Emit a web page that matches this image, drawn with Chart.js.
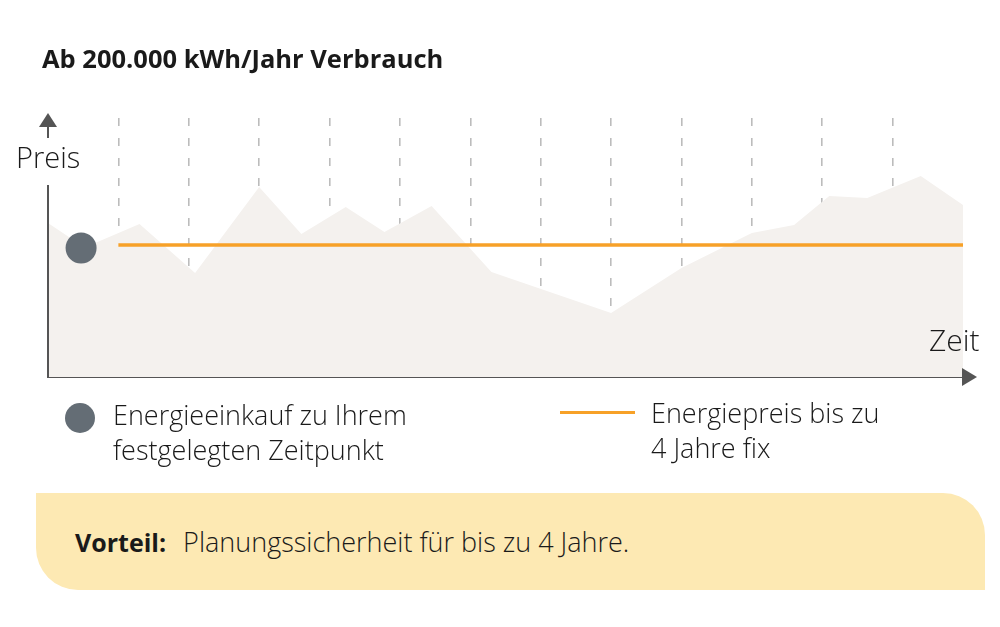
<!DOCTYPE html>
<html lang="de">
<head>
<meta charset="utf-8">
<script src="https://cdn.jsdelivr.net/npm/chart.js@4/dist/chart.umd.min.js"></script>
<style>
    body { margin: 0; background: #fff; }
    #wrap { position: relative; width: 1000px; height: 627px; overflow: hidden; font-family: 'Open Sans', sans-serif; color: #1a1a1a; }
    #priceChart { position: absolute; left: 0; top: 0; }
    .txt { position: absolute; white-space: nowrap; line-height: 1; }
    #title { left: 42px; top: 46px; font-size: 25.5px; font-weight: 700; }
    #yLabel { left: 16px; top: 142px; font-size: 29px; font-weight: 300; }
    #xLabel { left: 929px; top: 325px; font-size: 30px; font-weight: 300; }
    .legend { font-size: 27px; line-height: 35px; font-weight: 300; }
    #legDot { position: absolute; left: 65px; top: 403px; width: 30px; height: 30px; border-radius: 50%; background: #646d75; }
    #legLine { position: absolute; left: 560px; top: 411px; width: 75px; height: 3px; background: #f7a128; }
    #box { position: absolute; left: 36px; top: 493px; width: 949px; height: 97px; background: #fde9b3; border-radius: 0 42px 0 42px; }
    #boxText { left: 75px; top: 528px; font-size: 27px; font-weight: 300; color: #1a1a1a; }
    #boxText b { font-weight: 700; font-size: 25px; margin-right: 10px; }
</style>
</head>
<body>
<div id="wrap">
    <canvas id="priceChart" width="1000" height="627"></canvas>
    <div class="txt" id="title">Ab 200.000 kWh/Jahr Verbrauch</div>
    <div class="txt" id="yLabel">Preis</div>
    <div class="txt" id="xLabel">Zeit</div>
    <div id="legDot"></div>
    <div class="txt legend" style="left:113px; top:397px;">Energieeinkauf zu Ihrem<br>festgelegten Zeitpunkt</div>
    <div id="legLine"></div>
    <div class="txt legend" style="left:651px; top:395px;">Energiepreis bis zu<br>4 Jahre fix</div>
    <div id="box"></div>
    <div class="txt" id="boxText"><b>Vorteil:</b> Planungssicherheit für bis zu 4 Jahre.</div>
</div>
<script>
// market price (grey area), time in periods, price 0..100
const priceX = [-1, -0.48, 0.3, 1.09, 2.0, 2.6, 3.23, 3.78, 4.45, 5.3, 7.0, 8.0, 9.0, 9.6, 10.1, 10.64, 11.4, 12];
const priceY = [59.5, 50, 59.1, 40.2, 73.4, 55.2, 65.6, 56.0, 66.0, 40.5, 24.7, 42.1, 55.6, 58.7, 69.9, 69.1, 77.6, 66.4];

// fixed energy price (orange line)
const fixedX = [0, 12];
const fixedY = [51, 51];

// purchase moment (grey dot)
const purchaseX = [-0.53];
const purchaseY = [49.8];

// dashed period lines
const periodTicks = [0, 1, 2, 3, 4, 5, 6, 7, 8, 9, 10, 11];

const toPoints = (xs, ys) => xs.map((x, i) => ({ x: x, y: ys[i] }));

const arrowPlugin = {
    id: 'arrows',
    afterDraw: chart => {
        const ctx = chart.ctx;
        const a = chart.chartArea;
        ctx.save();
        ctx.strokeStyle = '#555';
        ctx.fillStyle = '#555';
        ctx.lineWidth = 2;
        // y axis, interrupted by the label
        ctx.beginPath();
        ctx.moveTo(a.left, a.bottom);
        ctx.lineTo(a.left, a.top + 67);
        ctx.moveTo(a.left, a.top + 20);
        ctx.lineTo(a.left, a.top + 8);
        ctx.stroke();
        ctx.beginPath();
        ctx.moveTo(a.left, a.top - 5);
        ctx.lineTo(a.left - 9, a.top + 9);
        ctx.lineTo(a.left + 9, a.top + 9);
        ctx.closePath();
        ctx.fill();
        // x arrow head
        ctx.beginPath();
        ctx.moveTo(a.right - 1, a.bottom - 9);
        ctx.lineTo(a.right + 14, a.bottom);
        ctx.lineTo(a.right - 1, a.bottom + 9);
        ctx.closePath();
        ctx.fill();
        ctx.restore();
    }
};

new Chart(document.getElementById('priceChart').getContext('2d'), {
    type: 'line',
    data: {
        datasets: [
            {
                label: 'Energieeinkauf',
                data: toPoints(purchaseX, purchaseY),
                showLine: false,
                pointRadius: 15.5,
                pointBackgroundColor: '#646d75',
                pointBorderWidth: 0,
                order: 0,
            },
            {
                label: 'Energiepreis fix',
                data: toPoints(fixedX, fixedY),
                borderColor: '#f7a128',
                borderWidth: 3.5,
                pointRadius: 0,
                fill: false,
                order: 1,
            },
            {
                label: 'Marktpreis',
                data: toPoints(priceX, priceY),
                borderWidth: 0,
                borderColor: 'rgba(0,0,0,0)',
                backgroundColor: '#f4f1ee',
                pointRadius: 0,
                fill: 'origin',
                tension: 0,
                order: 2,
            },
        ],
    },
    options: {
        responsive: false,
        animation: false,
        layout: {
            padding: { left: 48, right: 37, top: 118, bottom: 250 },
        },
        scales: {
            x: {
                type: 'linear',
                min: -1,
                max: 12,
                z: 1,
                afterBuildTicks: scale => {
                    scale.ticks = [-1].concat(periodTicks, [12]).map(v => ({ value: v }));
                },
                ticks: { display: false },
                grid: {
                    drawTicks: false,
                    lineWidth: 1.6,
                    color: c => (c.tick && periodTicks.includes(c.tick.value)) ? 'rgba(160,160,160,0.7)' : 'rgba(0,0,0,0)',
                },
                border: {
                    display: true,
                    color: '#555',
                    width: 2,
                    dash: [8, 12],
                },
            },
            y: {
                min: 0,
                max: 100,
                display: false,
            },
        },
        plugins: {
            legend: { display: false },
            tooltip: { enabled: false },
        },
    },
    plugins: [arrowPlugin],
});
</script>
</body>
</html>
